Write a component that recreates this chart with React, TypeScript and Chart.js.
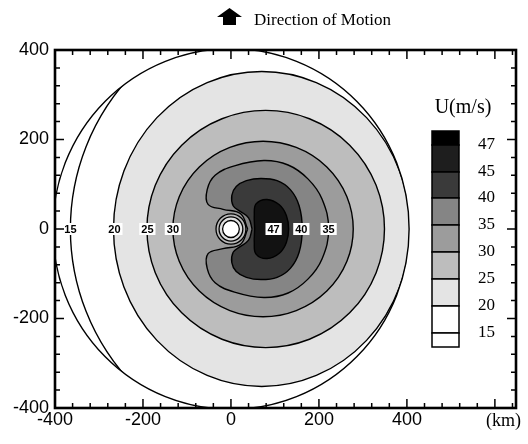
import { useEffect, useRef } from "react";
import { Chart, registerables } from "chart.js";

Chart.register(...registerables);

// ---------- axes ----------
const X_MIN = -400;
const X_MAX = 648;
const Y_MIN = -400;
const Y_MAX = 400;
const xMajorTicks = [-400, -200, 0, 200, 400, 600];
const xTickLabels = ["-400", "-200", "0", "200", "400", ""];
const yMajorTicks = [-400, -200, 0, 200, 400];
const yTickLabels = ["-400", "-200", "0", "200", "400"];
const axisUnit = "(km)";
const titleText = "Direction of Motion";

// ---------- data domain (outer boundary of the computed field, km) ----------
const domainCenterX = 0;
const domainCenterY = 0;
const domainRadiusX = 405;
const domainRadiusY = 403;

// ---------- nearly circular isotachs (km) ----------
const ringLevels = [15, 20, 25, 30];
const ringCenterX = [142, 70, 79, 73];
const ringCenterY = [0, 0, 0, 0];
const ringRadiusX = [507, 337, 270, 205];
const ringRadiusY = [500, 352, 265, 196];

// ---------- kidney / D shaped isotachs (km) ----------
const contour35X = [38, 22, -18, -52, -54, -36, 8, 75, 130, 175, 207, 222, 207, 175, 130, 75, 8, -36, -54, -52, -18, 22, 38];
const contour35Y = [0, 34, 44, 55, 88, 120, 141, 153, 143, 112, 67, 0, -67, -112, -143, -153, -141, -120, -88, -55, -44, -34, 0];

const contour40X = [48, 40, 20, 5, 2, 12, 35, 68, 105, 135, 155, 162, 155, 135, 105, 68, 35, 12, 2, 5, 20, 40, 48];
const contour40Y = [0, 25, 40, 52, 75, 95, 108, 113, 108, 88, 52, 0, -52, -88, -108, -113, -108, -95, -75, -52, -40, -25, 0];

const contour45X = [54, 53, 57, 82, 110, 126, 131, 126, 110, 82, 57, 53, 54];
const contour45Y = [0, 30, 56, 66, 54, 30, 0, -30, -54, -66, -56, -30, 0];

// ---------- eye (km) ----------
const eyeCenterX = 0;
const eyeCenterY = 0;
const eyeRingRadii = [34, 27, 19];

// ---------- contour labels (km) ----------
const labelText = ["15", "20", "25", "30", "35", "40", "47"];
const labelX = [-365, -265, -190, -132, 222, 160, 97];
const labelY = [0, 0, 0, 0, 0, 0, 0];

// ---------- colour bar ----------
const legendLevels = ["47", "45", "40", "35", "30", "25", "20", "15"];

// palette (style, not data)
const ringFills = ["#ffffff", "#e4e4e4", "#bdbdbd", "#9c9c9c"];
const fill35 = "#858585";
const fill40 = "#3a3a3a";
const fill45 = "#121212";
const eyeFills = ["#b8b8b8", "#dedede", "#ffffff"];
const legendFills = ["#000000", "#1e1e1e", "#3a3a3a", "#858585", "#9c9c9c", "#bdbdbd", "#e4e4e4", "#ffffff", "#ffffff"];

const pts = (xs: number[], ys: number[]) => xs.map((v, i) => ({ x: v, y: ys[i] }));

const contourPlugin = {
  id: "contourPlugin",
  beforeDatasetsDraw(chart: any) {
    const { ctx, chartArea: a, scales } = chart;
    const xs = scales.x;
    const ys = scales.y;
    const ell = (cx: number, cy: number, rx: number, ry: number) => {
      const px = xs.getPixelForValue(cx);
      const py = ys.getPixelForValue(cy);
      const rpx = Math.abs(xs.getPixelForValue(cx + rx) - px);
      const rpy = Math.abs(ys.getPixelForValue(cy + ry) - py);
      ctx.beginPath();
      ctx.ellipse(px, py, rpx, rpy, 0, 0, Math.PI * 2);
    };
    ctx.save();
    ctx.beginPath();
    ctx.rect(a.left, a.top, a.right - a.left, a.bottom - a.top);
    ctx.clip();
    ctx.save();
    ell(domainCenterX, domainCenterY, domainRadiusX, domainRadiusY);
    ctx.clip();
    ringLevels.forEach((_, i) => {
      ell(ringCenterX[i], ringCenterY[i], ringRadiusX[i], ringRadiusY[i]);
      ctx.fillStyle = ringFills[i];
      ctx.fill();
    });
    ctx.strokeStyle = "#000";
    ctx.lineWidth = 1.4;
    ringLevels.forEach((_, i) => {
      ell(ringCenterX[i], ringCenterY[i], ringRadiusX[i], ringRadiusY[i]);
      ctx.stroke();
    });
    eyeRingRadii.forEach((r, i) => {
      ell(eyeCenterX, eyeCenterY, r, r);
      ctx.fillStyle = eyeFills[i];
      ctx.fill();
      ctx.lineWidth = 1.3;
      ctx.stroke();
    });
    ctx.restore();
    ell(domainCenterX, domainCenterY, domainRadiusX, domainRadiusY);
    ctx.strokeStyle = "#000";
    ctx.lineWidth = 1.4;
    ctx.stroke();
    ctx.restore();
  },
  afterDatasetsDraw(chart: any) {
    const { ctx, scales } = chart;
    ctx.save();
    ctx.font = 'bold 11px "Liberation Sans", Arial, sans-serif';
    ctx.textAlign = "center";
    ctx.textBaseline = "middle";
    labelText.forEach((t, i) => {
      const px = scales.x.getPixelForValue(labelX[i]);
      const py = scales.y.getPixelForValue(labelY[i]);
      const w = ctx.measureText(t).width + 4;
      ctx.fillStyle = "#ffffff";
      ctx.fillRect(px - w / 2, py - 6, w, 12);
      ctx.fillStyle = "#000";
      ctx.fillText(t, px, py + 0.5);
    });
    ctx.restore();
  },
  afterDraw(chart: any) {
    const { ctx, chartArea: a, scales } = chart;
    ctx.save();
    // ticks (inward, all four sides)
    ctx.strokeStyle = "#000";
    ctx.lineWidth = 1.5;
    for (let v = -400; v <= X_MAX; v += 40) {
      const px = scales.x.getPixelForValue(v);
      const len = v % 200 === 0 ? 9 : 5;
      ctx.beginPath();
      ctx.moveTo(px, a.bottom);
      ctx.lineTo(px, a.bottom - len);
      ctx.moveTo(px, a.top);
      ctx.lineTo(px, a.top + len);
      ctx.stroke();
    }
    for (let v = Y_MIN; v <= Y_MAX; v += 40) {
      const py = scales.y.getPixelForValue(v);
      const len = v % 200 === 0 ? 9 : 5;
      ctx.beginPath();
      ctx.moveTo(a.left, py);
      ctx.lineTo(a.left + len, py);
      ctx.moveTo(a.right, py);
      ctx.lineTo(a.right - len, py);
      ctx.stroke();
    }
    // frame
    ctx.lineWidth = 2.6;
    ctx.strokeRect(a.left, a.top, a.right - a.left, a.bottom - a.top);
    // unit label
    ctx.fillStyle = "#000";
    ctx.font = '18px "Liberation Serif", "Times New Roman", serif';
    ctx.textAlign = "right";
    ctx.textBaseline = "middle";
    ctx.fillText(axisUnit, 521, 421);
    // title with arrow
    ctx.beginPath();
    ctx.moveTo(217, 17);
    ctx.lineTo(229.5, 8);
    ctx.lineTo(242, 17);
    ctx.lineTo(236, 17);
    ctx.lineTo(236, 25);
    ctx.lineTo(223, 25);
    ctx.lineTo(223, 17);
    ctx.closePath();
    ctx.fill();
    ctx.font = '17px "Liberation Serif", "Times New Roman", serif';
    ctx.textAlign = "left";
    ctx.textBaseline = "alphabetic";
    ctx.fillText(titleText, 254, 25);
    // colour bar
    const bx = 432;
    const bw = 27;
    const edges = [131, 145, 172, 198, 225, 252, 279, 306, 333, 347];
    for (let i = 0; i < legendFills.length; i++) {
      ctx.fillStyle = legendFills[i];
      ctx.fillRect(bx, edges[i], bw, edges[i + 1] - edges[i]);
      ctx.lineWidth = 1.5;
      ctx.strokeStyle = "#000";
      ctx.strokeRect(bx, edges[i], bw, edges[i + 1] - edges[i]);
    }
    ctx.fillStyle = "#000";
    ctx.font = '17px "Liberation Serif", "Times New Roman", serif';
    ctx.textAlign = "left";
    ctx.textBaseline = "middle";
    legendLevels.forEach((t, i) => ctx.fillText(t, 478, edges[i + 1]));
    ctx.font = '20px "Liberation Serif", "Times New Roman", serif';
    ctx.textAlign = "center";
    ctx.fillText("U(m/s)", 463, 108);
    ctx.restore();
  },
};

export default function App() {
  const ref = useRef<HTMLCanvasElement | null>(null);
  useEffect(() => {
    document.body.style.margin = "0";
    const canvas = ref.current;
    if (!canvas) return;
    const chart = new Chart(canvas, {
      type: "scatter",
      data: {
        datasets: [
          {
            label: "35",
            data: pts(contour35X, contour35Y),
            showLine: true,
            fill: "shape",
            backgroundColor: fill35,
            borderColor: "#000",
            borderWidth: 1.4,
            pointRadius: 0,
            tension: 0.4,
            order: 3,
          },
          {
            label: "40",
            data: pts(contour40X, contour40Y),
            showLine: true,
            fill: "shape",
            backgroundColor: fill40,
            borderColor: "#000",
            borderWidth: 1.4,
            pointRadius: 0,
            tension: 0.4,
            order: 2,
          },
          {
            label: "45",
            data: pts(contour45X, contour45Y),
            showLine: true,
            fill: "shape",
            backgroundColor: fill45,
            borderColor: "#000",
            borderWidth: 1.4,
            pointRadius: 0,
            tension: 0.4,
            order: 1,
          },
        ],
      } as any,
      options: {
        animation: false,
        responsive: false,
        devicePixelRatio: 1,
        layout: { padding: { left: 0, right: 12, top: 50, bottom: 0 } },
        plugins: { legend: { display: false }, tooltip: { enabled: false } },
        scales: {
          x: {
            type: "linear",
            min: X_MIN,
            max: X_MAX,
            afterBuildTicks: (s: any) => {
              s.ticks = xMajorTicks.map((v) => ({ value: v }));
            },
            afterFit: (s: any) => {
              s.height = 36;
            },
            ticks: {
              autoSkip: false,
              maxRotation: 0,
              padding: 1,
              color: "#000",
              font: { family: '"Liberation Sans", Arial, sans-serif', size: 18 },
              callback: (v: any) => {
                const i = xMajorTicks.indexOf(Number(v));
                return i >= 0 ? xTickLabels[i] : "";
              },
            },
            grid: { display: false, drawTicks: false },
            border: { display: false },
          },
          y: {
            type: "linear",
            min: Y_MIN,
            max: Y_MAX,
            afterBuildTicks: (s: any) => {
              s.ticks = yMajorTicks.map((v) => ({ value: v }));
            },
            afterFit: (s: any) => {
              s.width = 55;
            },
            ticks: {
              autoSkip: false,
              padding: 6,
              color: "#000",
              font: { family: '"Liberation Sans", Arial, sans-serif', size: 18 },
              callback: (v: any) => {
                const i = yMajorTicks.indexOf(Number(v));
                return i >= 0 ? yTickLabels[i] : "";
              },
            },
            grid: { display: false, drawTicks: false },
            border: { display: false },
          },
        },
      } as any,
      plugins: [contourPlugin],
    });
    return () => chart.destroy();
  }, []);
  return (
    <div style={{ width: 528, height: 444, background: "#fff" }}>
      <canvas ref={ref} width={528} height={444} style={{ display: "block", width: 528, height: 444 }} />
    </div>
  );
}
